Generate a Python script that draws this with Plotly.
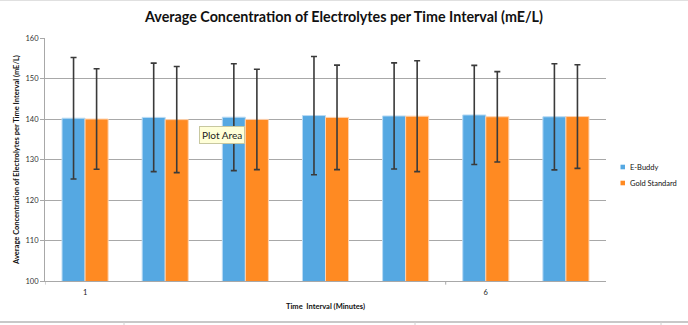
import plotly.graph_objects as go

intervals = [1, 2, 3, 4, 5, 6, 7]
tick_vals = [1, 6]
tick_text = ["1", "6"]

series_names = ["E-Buddy", "Gold Standard"]
ebuddy_mean = [140.2, 140.4, 140.45, 140.85, 140.75, 141.0, 140.55]
ebuddy_err = [15.0, 13.4, 13.2, 14.6, 13.1, 12.25, 13.1]
gold_mean = [140.0, 139.85, 139.9, 140.4, 140.7, 140.55, 140.6]
gold_err = [12.4, 13.1, 12.4, 12.9, 13.7, 11.15, 12.8]

FONT = "Lato"
BLUE = "#55A8E2"
ORANGE = "#FF8A22"
colors = [BLUE, ORANGE]

fig = go.Figure()
fig.add_trace(go.Bar(
    x=intervals, y=ebuddy_mean, name=series_names[0], showlegend=False,
    marker=dict(color=BLUE, line=dict(color="#B9DBF4", width=1)),
    error_y=dict(type="data", array=ebuddy_err, visible=True,
                 color="#3A3A3A", thickness=1.6, width=3),
))
fig.add_trace(go.Bar(
    x=intervals, y=gold_mean, name=series_names[1], showlegend=False,
    marker=dict(color=ORANGE, line=dict(color="#FFD2AE", width=1)),
    error_y=dict(type="data", array=gold_err, visible=True,
                 color="#3A3A3A", thickness=1.6, width=3),
))

PW, PH, L, T = 561, 243, 45, 38
def px(xp):
    return (xp - L) / PW
def py(yp):
    return (T + PH - yp) / PH

fig.update_layout(
    width=688, height=325,
    margin=dict(l=45, r=82, t=38, b=44, autoexpand=False),
    paper_bgcolor="white", plot_bgcolor="white",
    barmode="group", bargap=0.425, bargroupgap=0,
    font=dict(family=FONT, color="#222222"),
    title=dict(text="<b>Average Concentration of Electrolytes per Time Interval (mE/L)</b>",
               x=0.5, xanchor="center", y=0.948, yanchor="middle",
               font=dict(family=FONT, size=14.3, color="#111111")),
    showlegend=False,
)

# legend drawn as small swatches + labels
for i, (name, col) in enumerate(zip(series_names, colors)):
    yc = 167 + i * 16
    fig.add_shape(type="rect", xref="paper", yref="paper",
                  x0=px(620.5), x1=px(625), y0=py(yc + 2.3), y1=py(yc - 2.3),
                  fillcolor=col, line=dict(width=0))
    fig.add_annotation(text=name, xref="paper", yref="paper", x=px(627.5), y=py(yc),
                       xanchor="left", yanchor="middle", showarrow=False,
                       font=dict(family=FONT, size=7.5, color="#111111"))

fig.update_yaxes(
    range=[100, 160], dtick=10,
    showgrid=True, gridcolor="#A8A8A8", gridwidth=1,
    showline=True, linecolor="#A8A8A8", linewidth=1,
    ticks="outside", ticklen=4, tickcolor="#A8A8A8",
    tickfont=dict(family=FONT, size=7.5, color="#333333"),
    zeroline=False,
    title=dict(text="<b>Average Concentration of Electrolytes per Time Interval (mE/L)</b>",
               font=dict(family=FONT, size=7.5, color="#111111"), standoff=4),
)
fig.update_xaxes(
    range=[0.5, 7.5], tickvals=tick_vals, ticktext=tick_text,
    showgrid=False, showline=True, linecolor="#A8A8A8", linewidth=1,
    ticks="", tickfont=dict(family=FONT, size=7.5, color="#222222"),
    ticklabelstandoff=4,
    title=dict(text="<b>Time  Interval (Minutes)</b>",
               font=dict(family=FONT, size=7.5, color="#111111"), standoff=7),
)

# category-boundary tick marks on x axis
for xb in [0.5, 5.5]:
    fig.add_shape(type="line", xref="x", yref="paper", x0=xb, x1=xb,
                  y0=0, y1=-0.015, line=dict(color="#A8A8A8", width=1))

# tooltip artifact
fig.add_annotation(text="Plot Area", xref="paper", yref="paper",
                   x=px(221.5), y=py(134.5), xanchor="center", yanchor="middle",
                   showarrow=False, font=dict(family=FONT, size=10, color="#222222"),
                   bgcolor="#FFFFD8", bordercolor="#C8C8A0", borderwidth=1, borderpad=2)

# spreadsheet lines around the chart frame
fig.add_shape(type="line", xref="paper", yref="paper", x0=px(0), x1=px(688),
              y0=py(322), y1=py(322), line=dict(color="#C8C8C8", width=2))
for xs in [124, 415, 661]:
    fig.add_shape(type="line", xref="paper", yref="paper",
                  x0=px(xs), x1=px(xs),
                  y0=py(322), y1=py(330), line=dict(color="#D0D0D0", width=1))
fig.add_shape(type="line", xref="paper", yref="paper", x0=px(0), x1=px(688),
              y0=py(0.5), y1=py(0.5), line=dict(color="#E0E0E0", width=1))

fig.write_html("out.html")
